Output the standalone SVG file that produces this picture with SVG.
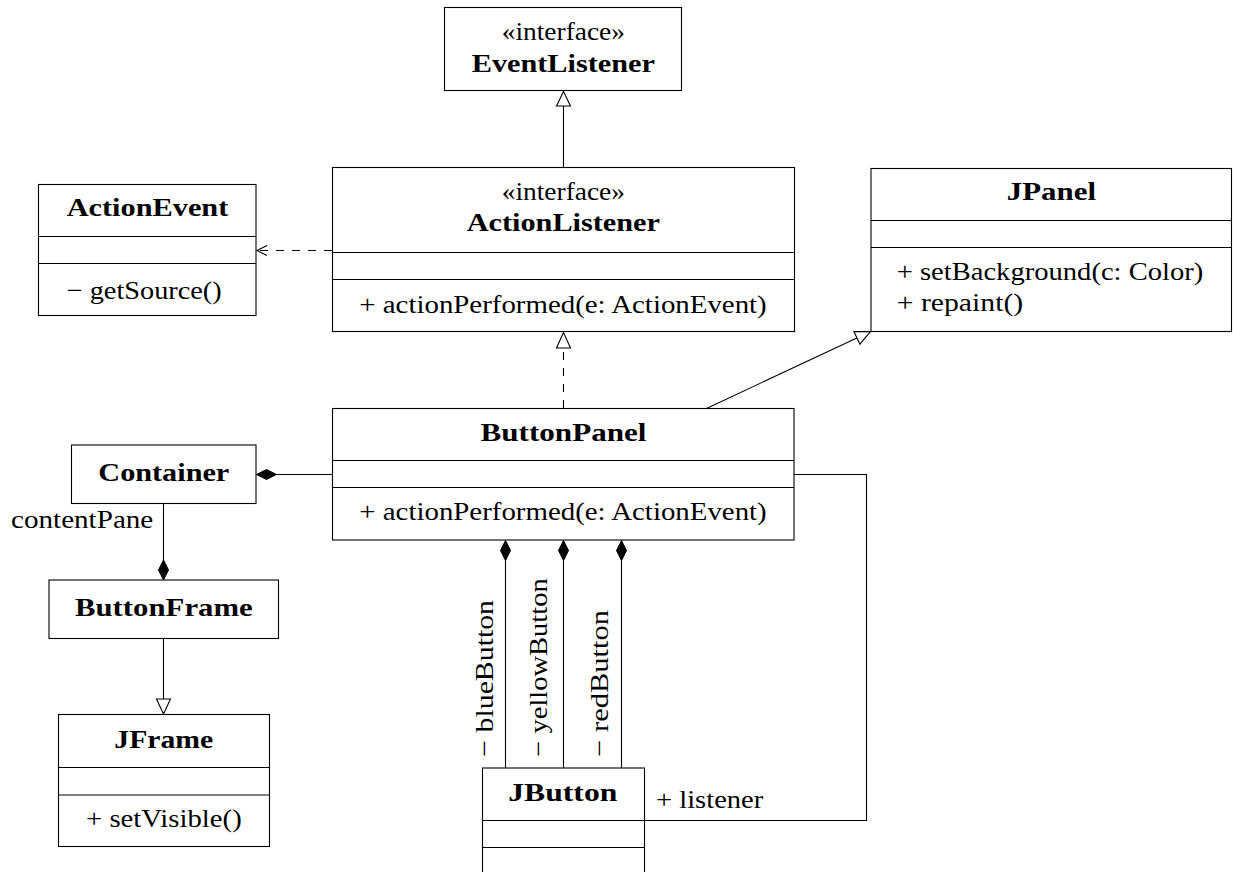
<svg xmlns="http://www.w3.org/2000/svg" width="1233" height="872" viewBox="0 0 1233 872">
  <style>
    .box { fill: #ffffff; stroke: #000000; stroke-width: 1.1; }
    .sep { stroke: #000000; stroke-width: 1.1; }
    .ln { fill: none; stroke: #000000; stroke-width: 1.1; }
    .dash { fill: none; stroke: #000000; stroke-width: 1.1; stroke-dasharray: 8 8; }
    .hollow { fill: #ffffff; stroke: #000000; stroke-width: 1.1; }
    .solid { fill: #000000; stroke: #000000; stroke-width: 1; }
    text { font-family: "Liberation Serif", "Times New Roman", serif; font-size: 26px; fill: #000000; }
    .b { font-weight: bold; }
  </style>

  <!-- connectors -->
  <g id="connectors">
    <!-- ActionListener generalizes EventListener -->
    <line class="ln" x1="563.5" y1="167.5" x2="563.5" y2="106"/>
    <polygon class="hollow" points="563.5,91.5 556.5,106 570.5,106"/>

    <!-- ActionListener depends on ActionEvent -->
    <line class="dash" x1="332" y1="250.5" x2="258" y2="250.5"/>
    <polyline class="ln" points="267,245.5 257,250.5 267,255.5"/>

    <!-- ButtonPanel realizes ActionListener -->
    <line class="dash" x1="563.5" y1="408" x2="563.5" y2="348"/>
    <polygon class="hollow" points="563.5,332.5 556.5,348 570.5,348"/>

    <!-- ButtonPanel extends JPanel -->
    <line class="ln" x1="706.5" y1="408.5" x2="856.9" y2="337.9"/>
    <polygon class="hollow" points="870.5,331.5 853.9,331.6 859.9,344.2"/>

    <!-- Container composed into ButtonPanel -->
    <line class="ln" x1="276" y1="474.5" x2="332" y2="474.5"/>
    <polygon class="solid" points="256.5,474.5 266.5,469.5 276.5,474.5 266.5,479.5"/>

    <!-- contentPane: Container composed into ButtonFrame -->
    <line class="ln" x1="163.5" y1="503.5" x2="163.5" y2="560"/>
    <polygon class="solid" points="163.5,560 168.5,570 163.5,580 158.5,570"/>

    <!-- ButtonFrame extends JFrame -->
    <line class="ln" x1="163.5" y1="638.5" x2="163.5" y2="699"/>
    <polygon class="hollow" points="163.5,714 156.5,699 170.5,699"/>

    <!-- three JButton members of ButtonPanel -->
    <line class="ln" x1="505.5" y1="560" x2="505.5" y2="768"/>
    <polygon class="solid" points="505.5,540.5 510.5,550.5 505.5,560.5 500.5,550.5"/>
    <line class="ln" x1="563.5" y1="560" x2="563.5" y2="768"/>
    <polygon class="solid" points="563.5,540.5 568.5,550.5 563.5,560.5 558.5,550.5"/>
    <line class="ln" x1="621.5" y1="560" x2="621.5" y2="768"/>
    <polygon class="solid" points="621.5,540.5 626.5,550.5 621.5,560.5 616.5,550.5"/>

    <!-- JButton listener back to ButtonPanel -->
    <polyline class="ln" points="794,474.5 866.5,474.5 866.5,820.5 644.5,820.5"/>

    <!-- association end labels -->
    <text x="11" y="528.3" textLength="142.3" lengthAdjust="spacingAndGlyphs">contentPane</text>
    <text transform="translate(493.3,756.7) rotate(-90)" textLength="156.7" lengthAdjust="spacingAndGlyphs">− blueButton</text>
    <text transform="translate(547.3,756.7) rotate(-90)" textLength="178.4" lengthAdjust="spacingAndGlyphs">− yellowButton</text>
    <text transform="translate(608.3,756.7) rotate(-90)" textLength="146.7" lengthAdjust="spacingAndGlyphs">− redButton</text>
    <text x="656" y="808.3" textLength="107.3" lengthAdjust="spacingAndGlyphs">+ listener</text>
  </g>

  <!-- EventListener -->
  <g id="EventListener">
    <rect class="box" x="444.5" y="7.5" width="237" height="83"/>
    <text x="501.7" y="40" textLength="123.3" lengthAdjust="spacingAndGlyphs">«interface»</text>
    <text class="b" x="471.7" y="71.7" textLength="183.3" lengthAdjust="spacingAndGlyphs">EventListener</text>
  </g>

  <!-- ActionListener -->
  <g id="ActionListener">
    <rect class="box" x="332.5" y="167.5" width="462" height="164"/>
    <line class="sep" x1="332.5" y1="252.5" x2="794.5" y2="252.5"/>
    <line class="sep" x1="332.5" y1="279.5" x2="794.5" y2="279.5"/>
    <text x="501.7" y="200" textLength="123.3" lengthAdjust="spacingAndGlyphs">«interface»</text>
    <text class="b" x="466.7" y="231" textLength="193.3" lengthAdjust="spacingAndGlyphs">ActionListener</text>
    <text x="359.3" y="313.3" textLength="407.4" lengthAdjust="spacingAndGlyphs">+ actionPerformed(e: ActionEvent)</text>
  </g>

  <!-- ActionEvent -->
  <g id="ActionEvent">
    <rect class="box" x="38.5" y="184.5" width="217.5" height="131"/>
    <line class="sep" x1="38.5" y1="236.5" x2="256" y2="236.5"/>
    <line class="sep" x1="38.5" y1="263.5" x2="256" y2="263.5"/>
    <text class="b" x="66.7" y="215.7" textLength="161.6" lengthAdjust="spacingAndGlyphs">ActionEvent</text>
    <text x="66.7" y="299" textLength="155" lengthAdjust="spacingAndGlyphs">− getSource()</text>
  </g>

  <!-- JPanel -->
  <g id="JPanel">
    <rect class="box" x="871" y="168.5" width="360.5" height="163"/>
    <line class="sep" x1="871" y1="220.5" x2="1231.5" y2="220.5"/>
    <line class="sep" x1="871" y1="247.5" x2="1231.5" y2="247.5"/>
    <text class="b" x="1006.7" y="200" textLength="89.3" lengthAdjust="spacingAndGlyphs">JPanel</text>
    <text x="896.7" y="280" textLength="306.6" lengthAdjust="spacingAndGlyphs">+ setBackground(c: Color)</text>
    <text x="896.7" y="311" textLength="126.6" lengthAdjust="spacingAndGlyphs">+ repaint()</text>
  </g>

  <!-- ButtonPanel -->
  <g id="ButtonPanel">
    <rect class="box" x="332.5" y="408.5" width="461.5" height="131.5"/>
    <line class="sep" x1="332.5" y1="460.5" x2="794" y2="460.5"/>
    <line class="sep" x1="332.5" y1="487.5" x2="794" y2="487.5"/>
    <text class="b" x="480.5" y="440.7" textLength="166" lengthAdjust="spacingAndGlyphs">ButtonPanel</text>
    <text x="359.3" y="520" textLength="407.4" lengthAdjust="spacingAndGlyphs">+ actionPerformed(e: ActionEvent)</text>
  </g>

  <!-- Container -->
  <g id="Container">
    <rect class="box" x="71.5" y="445" width="184.5" height="58.5"/>
    <text class="b" x="98.3" y="481" textLength="131" lengthAdjust="spacingAndGlyphs">Container</text>
  </g>

  <!-- ButtonFrame -->
  <g id="ButtonFrame">
    <rect class="box" x="49" y="580" width="229.5" height="58.5"/>
    <text class="b" x="75" y="616" textLength="177.7" lengthAdjust="spacingAndGlyphs">ButtonFrame</text>
  </g>

  <!-- JFrame -->
  <g id="JFrame">
    <rect class="box" x="58.5" y="714.5" width="211" height="132"/>
    <line class="sep" x1="58.5" y1="767.5" x2="269.5" y2="767.5"/>
    <line class="sep" x1="58.5" y1="795" x2="269.5" y2="795"/>
    <text class="b" x="114.3" y="747.7" textLength="99" lengthAdjust="spacingAndGlyphs">JFrame</text>
    <text x="86" y="826.7" textLength="155.7" lengthAdjust="spacingAndGlyphs">+ setVisible()</text>
  </g>

  <!-- JButton -->
  <g id="JButton">
    <rect class="box" x="482.5" y="768" width="162" height="130"/>
    <line class="sep" x1="482.5" y1="820.5" x2="644.5" y2="820.5"/>
    <line class="sep" x1="482.5" y1="847.5" x2="644.5" y2="847.5"/>
    <text class="b" x="508.3" y="801" textLength="109" lengthAdjust="spacingAndGlyphs">JButton</text>
  </g>
</svg>
